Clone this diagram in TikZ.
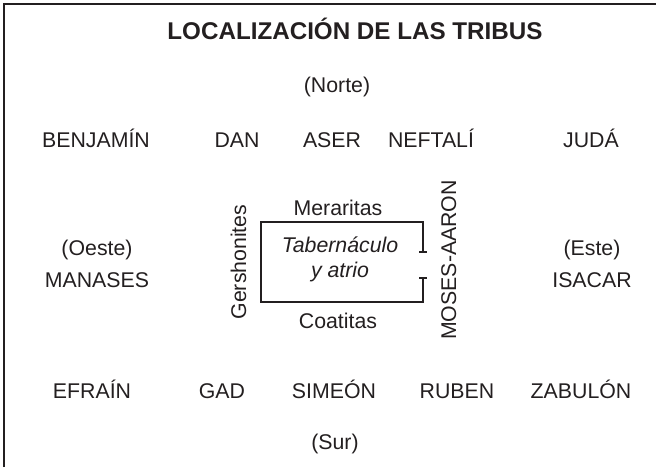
\documentclass[tikz,border=0pt]{standalone}
\usepackage{fontspec}
\setmainfont{Liberation Sans}
\definecolor{ink}{HTML}{231F20}
\tikzset{
  lbl/.style={anchor=base, inner sep=0pt, text=ink, font=\fontsize{21.3}{25}\selectfont},
  ttl/.style={anchor=base, inner sep=0pt, text=ink, font=\fontsize{24.2}{28}\selectfont\bfseries},
  vlbl/.style={lbl, rotate=90},
  frameline/.style={draw=ink, line width=2.4pt},
  boxline/.style={draw=ink, line width=2pt}
}
\begin{document}
\begin{tikzpicture}[x=1pt,y=-1pt]
\useasboundingbox (0,0) rectangle (656,467);
% frame (top and left only)
\coordinate (fbl) at (4,467);
\coordinate (ftl) at (4,4);
\coordinate (ftr) at (656,4);
\draw[frameline] (fbl) -- (ftl) -- (ftr);
% title
\node[ttl] (title) at (355,39) {LOCALIZACIÓN DE LAS TRIBUS};
\node[lbl] (norte) at (337,92) {(Norte)};
% row 1
\node[lbl] (benjamin) at (96,147) {BENJAMÍN};
\node[lbl] (dan) at (237,147) {DAN};
\node[lbl] (aser) at (332,147) {ASER};
\node[lbl] (neftali) at (431,147) {NEFTALÍ};
\node[lbl] (juda) at (591,147) {JUDÁ};
% sides
\node[lbl] (oeste) at (97,255) {(Oeste)};
\node[lbl] (manases) at (97,287) {MANASES};
\node[lbl] (este) at (592,255) {(Este)};
\node[lbl] (isacar) at (592,287) {ISACAR};
% tabernacle
\coordinate (rtl) at (261,222);
\coordinate (rbl) at (261,302);
\coordinate (rtr) at (423,222);
\coordinate (rbr) at (423,302);
\coordinate (rt1) at (423,252);
\coordinate (rt2) at (423,278);
\draw[boxline] (rt1) -- (rtr) -- (rtl) -- (rbl) -- (rbr) -- (rt2);
\draw[boxline] ([xshift=-4]rt1) -- ([xshift=4]rt1);
\draw[boxline] ([xshift=-4]rt2) -- ([xshift=4]rt2);
\node[lbl] (meraritas) at (338,215) {Meraritas};
\node[lbl, font=\fontsize{21.3}{25}\selectfont\itshape] (tab) at (340,252) {Tabernáculo};
\node[lbl, font=\fontsize{21.3}{25}\selectfont\itshape] (atrio) at (340,277) {y atrio};
\node[lbl] (coatitas) at (338,328) {Coatitas};
\node[vlbl] (gersh) at (246,262) {Gershonites};
\node[vlbl] (moses) at (456,260) {MOSES-AARON};
% bottom row
\node[lbl] (efrain) at (92,398) {EFRAÍN};
\node[lbl] (gad) at (222,398) {GAD};
\node[lbl] (simeon) at (334,398) {SIMEÓN};
\node[lbl] (ruben) at (457,398) {RUBEN};
\node[lbl] (zabulon) at (581,398) {ZABULÓN};
\node[lbl] (sur) at (335,449) {(Sur)};
\end{tikzpicture}
\end{document}
